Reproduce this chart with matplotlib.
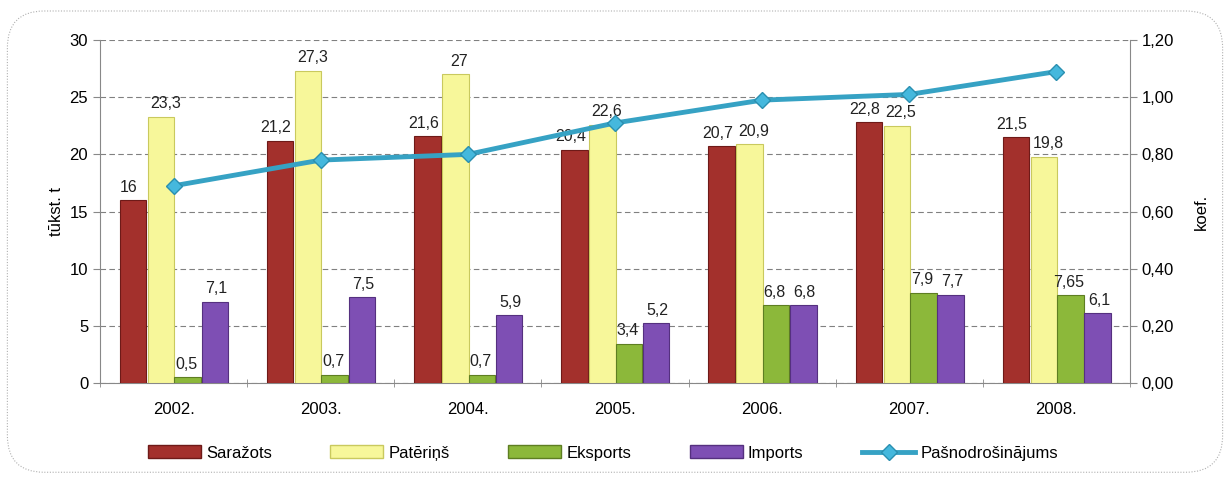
import matplotlib
matplotlib.use("Agg")
import matplotlib.pyplot as plt
from matplotlib.patches import FancyBboxPatch
from matplotlib.lines import Line2D
from matplotlib.patches import Patch
import numpy as np

plt.rcParams["font.family"] = ["Liberation Sans", "DejaVu Sans"]

years = ["2002.", "2003.", "2004.", "2005.", "2006.", "2007.", "2008."]
sarazots = [16, 21.2, 21.6, 20.4, 20.7, 22.8, 21.5]
paterins = [23.3, 27.3, 27, 22.6, 20.9, 22.5, 19.8]
eksports = [0.5, 0.7, 0.7, 3.4, 6.8, 7.9, 7.65]
imports = [7.1, 7.5, 5.9, 5.2, 6.8, 7.7, 6.1]
pasnodr = [0.69, 0.78, 0.80, 0.91, 0.99, 1.01, 1.09]

series = [
    ("Saražots", sarazots, "#A3302C", "#6E1A18"),
    ("Patēriņš", paterins, "#F7F79A", "#C9C95E"),
    ("Eksports", eksports, "#8CB83A", "#5E7E22"),
    ("Imports", imports, "#7E4FB4", "#55307F"),
]
offsets = [-0.275, -0.085, 0.095, 0.28]
label_dx = [-3, 3, -1, 1]
width = 0.18


def fmt(v):
    return ("%g" % v).replace(".", ",")


fig = plt.figure(figsize=(12.3, 4.78), dpi=100)
border = FancyBboxPatch((0.006, 0.012), 0.988, 0.965, boxstyle="round,pad=0,rounding_size=0.03",
                        transform=fig.transFigure, fill=False, edgecolor="#B0B0B0",
                        linestyle=(0, (1, 1.5)), linewidth=0.8, mutation_aspect=2.57)
fig.patches.append(border)

ax = fig.add_axes([0.0813, 0.199, 0.8374, 0.717])
x = np.arange(len(years))

for (name, vals, fc, ec), off, dx in zip(series, offsets, label_dx):
    ax.bar(x + off, vals, width, color=fc, edgecolor=ec, linewidth=0.8, zorder=3)
    for xi, v in zip(x + off, vals):
        ax.annotate(fmt(v), (xi, v), xytext=(dx, 4), textcoords="offset points",
                    ha="center", va="bottom", fontsize=11.5, color="#222222", zorder=5)

ax.set_xlim(-0.5, len(years) - 0.5)
ax.set_ylim(0, 30)
ax.set_yticks(range(0, 31, 5))
ax.set_xticks(x)
ax.set_xticklabels(years, fontsize=12)
ax.set_xticks(np.arange(-0.5, len(years), 1), minor=True)
ax.tick_params(axis="x", which="major", length=0, pad=14)
ax.tick_params(axis="x", which="minor", length=6, direction="inout", color="#888888")
ax.tick_params(axis="y", labelsize=12, length=5, color="#888888")
ax.yaxis.grid(True, linestyle=(0, (5, 3)), color="#808080", linewidth=0.8, zorder=0)
ax.set_axisbelow(True)
ax.set_ylabel("tūkst. t", fontsize=12)
for s in ["top", "right"]:
    ax.spines[s].set_visible(False)
for s in ["left", "bottom"]:
    ax.spines[s].set_color("#888888")

ax2 = ax.twinx()
ax2.plot(x, pasnodr, color="#36A2C4", linewidth=3.5, marker="D", markersize=8,
         markerfacecolor="#45B8DD", markeredgecolor="#2A8FB0", zorder=6)
ax2.set_ylim(0, 1.2)
ax2.set_yticks(np.arange(0, 1.21, 0.2))
ax2.set_yticklabels([("%.2f" % v).replace(".", ",") for v in np.arange(0, 1.21, 0.2)])
ax2.tick_params(axis="y", labelsize=12, length=5, color="#888888")
ax2.set_ylabel("koef.", fontsize=12, labelpad=14)
for s in ["top", "left", "bottom"]:
    ax2.spines[s].set_visible(False)
ax2.spines["right"].set_color("#888888")

handles = [Patch(facecolor=fc, edgecolor=ec, label=name) for name, _, fc, ec in series]
handles.append(Line2D([0], [0], color="#36A2C4", linewidth=3.5, marker="D", markersize=8,
                      markerfacecolor="#45B8DD", markeredgecolor="#2A8FB0", label="Pašnodrošinājums"))
fig.legend(handles=handles, loc="lower center", bbox_to_anchor=(0.49, 0.005), ncol=5,
           frameon=False, fontsize=12, handlelength=3.2, handleheight=0.8, columnspacing=3.5,
           handletextpad=0.3)

fig.savefig("out.png", dpi=100)
